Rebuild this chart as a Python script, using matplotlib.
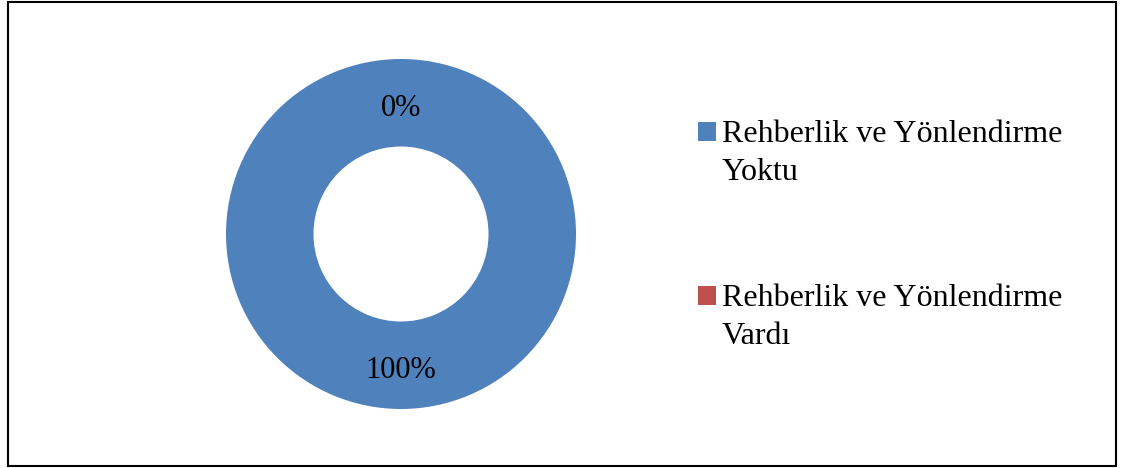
import matplotlib.pyplot as plt
from matplotlib.patches import Patch, Rectangle
from matplotlib.legend_handler import HandlerPatch

labels = ["Rehberlik ve Yönlendirme\nYoktu", "Rehberlik ve Yönlendirme\nVardı"]
values = [100, 0]
colors = ["#4F81BD", "#C0504D"]

plt.rcParams['font.family'] = ['Liberation Serif', 'DejaVu Serif']


class TopPatch(HandlerPatch):
    # put the square next to the first line of a two-line label
    def create_artists(self, legend, orig_handle, xdescent, ydescent,
                       width, height, fontsize, trans):
        shift = 0.68 * fontsize
        p = Rectangle((-xdescent, -ydescent + shift), width, height,
                      facecolor=orig_handle.get_facecolor(), edgecolor='none',
                      transform=trans)
        return [p]


fig = plt.figure(figsize=(11.21, 4.68), dpi=100)

# outer frame
fig.patches.append(Rectangle((8 / 1121, 2 / 468), 1108 / 1121, 464 / 468,
                             transform=fig.transFigure, fill=False,
                             edgecolor='black', linewidth=1.5))

ax = fig.add_axes([226 / 1121, 59 / 468, 350 / 1121, 350 / 468])
wedges, texts, autotexts = ax.pie(values, colors=colors, startangle=90,
                                  counterclock=False, autopct='%1.0f%%',
                                  pctdistance=0.75,
                                  wedgeprops=dict(width=0.5, linewidth=0),
                                  textprops=dict(fontsize=22, color='black'))
for t in autotexts:
    x, y = t.get_position()
    t.set_position((x, y - 0.03))
ax.set_xlim(-1, 1)
ax.set_ylim(-1, 1)
ax.set_aspect('equal')

handles = [Patch(facecolor=c, edgecolor='none') for c in colors]
leg = fig.legend(handles, labels, loc='upper left',
                 bbox_to_anchor=(698 / 1121, 1 - 120 / 468),
                 frameon=False, fontsize=23, handlelength=0.55, handleheight=0.55,
                 handletextpad=0.2, labelspacing=3.05, borderaxespad=0, borderpad=0,
                 handler_map={Patch: TopPatch()})
for t in leg.get_texts():
    t.set_linespacing(1.4)

fig.savefig('out.png', dpi=100)
